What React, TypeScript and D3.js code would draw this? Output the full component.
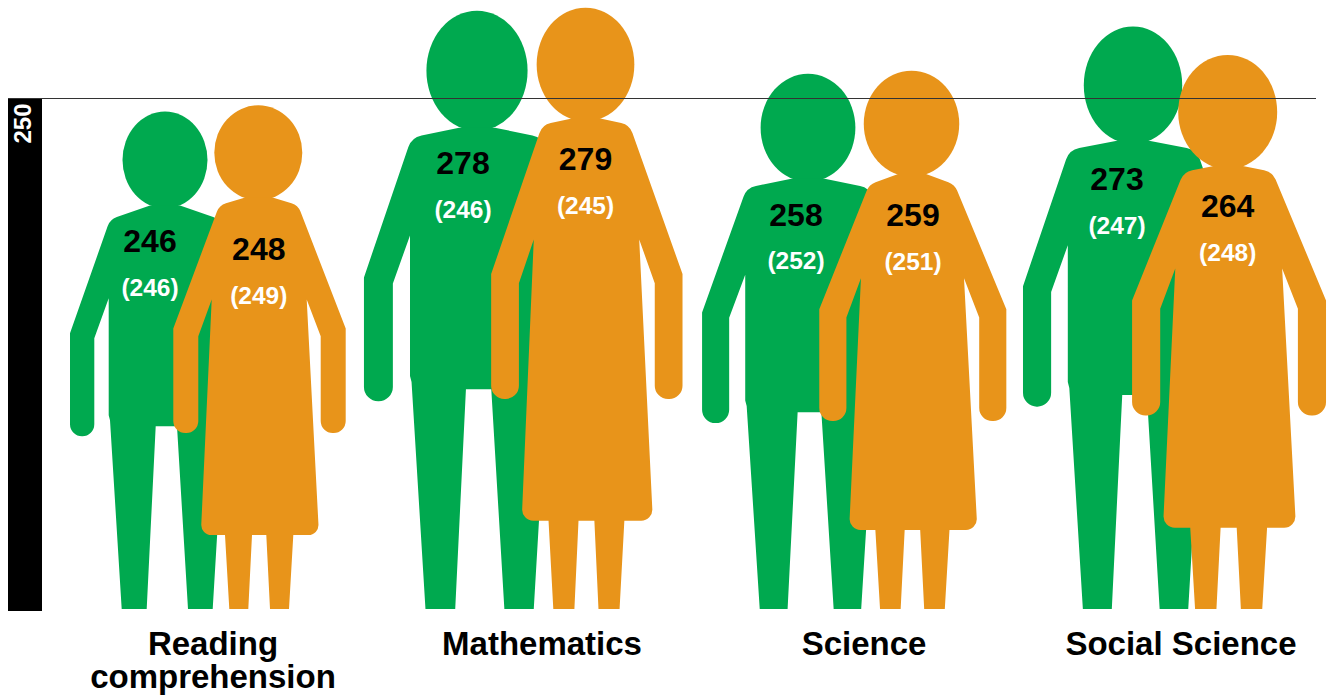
import React from 'react';
import * as d3 from 'd3';

// Scores
const categories = [['Reading', 'comprehension'], ['Mathematics'], ['Science'], ['Social Science']];
const greenScores = [246, 278, 258, 273];
const orangeScores = [248, 279, 259, 264];
const greenPrior = [246, 246, 252, 247];
const orangePrior = [249, 245, 251, 248];
const referenceTick = 250;

const greenCentres = [165, 477, 808, 1133];
const orangeCentres = [258.3, 585.5, 911.5, 1227.7];
const greenWidths = [1, 1.19, 1.115, 1.158];
const orangeWidths = [1, 1.11, 1.085, 1.125];
const greenNeckDrop = [0, 4, 4, 4.5];
const orangeNeckDrop = [0, 1, 5, 10];
const greenShoulderDrop = [0, -3, -2, -3];
const orangeShoulderDrop = [0, -2, 7, 7];
const greenOffsets = [-15, -14, -12, -16];
const orangeOffsets = [0.5, 0, 1.5, 0];
const greenBaselines = [252, 174, 225.5, 190];
const orangeBaselines = [260, 170, 226, 217];
const categoryCentres = [213, 542, 864, 1181];

const GREEN = '#00A94F';
const ORANGE = '#E8941A';

const baseY = 609;
const y = d3.scaleLinear().domain([88.1, referenceTick]).range([baseY, 99]);

// Silhouettes: [x from head centre, y from head top, corner radius]
type Pt = [number, number, number];
const greenHeight = 498;
const greenBody: Pt[] = [
  [-15, 94, 0], [-55, 108, 15], [-95, 222, 0], [-95, 325, 12], [-70.7, 325, 12],
  [-70.7, 227, 0], [-56.3, 187, 0], [-56.3, 304, 0], [-55, 309, 0], [-43.3, 498, 0],
  [-18.3, 498, 0], [-9.3, 315, 0], [12, 315, 0], [23, 498, 0], [47.7, 498, 0],
  [59, 309, 0], [57.3, 304, 0], [56.3, 187, 0], [70.7, 227, 0], [70.7, 325, 12],
  [95, 325, 12], [95, 222, 0], [55, 108, 15], [15, 94, 0],
];
const orangeHeight = 504;
const orangeBody: Pt[] = [
  [-12.3, 92, 0], [-39, 100, 14], [-85, 223.3, 0], [-85, 328, 12], [-60, 328, 12],
  [-60, 231, 0], [-46.6, 194.3, 0], [-57.5, 430, 10], [-33.3, 430, 0], [-29, 504, 0],
  [-10, 504, 0], [-6.3, 430, 0], [8, 430, 0], [11.7, 504, 0], [30.7, 504, 0],
  [35, 430, 0], [60.7, 430, 10], [48.4, 194.3, 0], [62.4, 231, 0], [62.4, 328, 12],
  [87.4, 328, 12], [87.4, 223.3, 0], [39.7, 100, 14], [13.4, 92, 0],
];

function Figure({ score, cx, kx, colour, shape, refHeight, rx, neckDrop, shoulderDrop }: any) {
  const top = y(score);
  const ky = (baseY - top) / refHeight;
  const last = shape.length - 1;
  const px = (pt: Pt) => cx + pt[0] * kx;
  const py = (pt: Pt, i: number) => {
    const drop = i === 0 || i === last ? neckDrop : i === 1 || i === last - 1 ? shoulderDrop : 0;
    return top + pt[1] * ky + drop;
  };
  const p = d3.path();
  p.moveTo(px(shape[0]), py(shape[0], 0));
  for (let i = 1; i <= last; i++) {
    const pt = shape[i];
    const n = (i + 1) % shape.length;
    if (pt[2] > 0) p.arcTo(px(pt), py(pt, i), px(shape[n]), py(shape[n], n), pt[2] * kx);
    else p.lineTo(px(pt), py(pt, i));
  }
  p.closePath();
  // head sits on the neck, so its height follows the neck position
  const ry = (py(shape[0], 0) - top + 3) / 2;
  return (
    <g fill={colour}>
      <ellipse cx={cx} cy={top + ry} rx={rx * kx} ry={ry} />
      <path d={p.toString()} />
    </g>
  );
}

export default function App() {
  const font = '"Liberation Sans", Arial, sans-serif';
  const lineY = y(referenceTick) - 0.5;
  return (
    <svg width={1333} height={696} fontFamily={font} fontWeight="bold" textAnchor="middle"
      style={{ position: 'absolute', left: 0, top: 0, display: 'block' }}>
      <rect width={1333} height={696} fill="#fff" />
      <rect x={8} y={y(referenceTick) - 1} width={34} height={513} fill="#000" />
      {categories.map((_, i) => (
        <g key={i}>
          <Figure score={greenScores[i]} cx={greenCentres[i]} kx={greenWidths[i]} colour={GREEN}
            shape={greenBody} refHeight={greenHeight} rx={42.5}
            neckDrop={greenNeckDrop[i]} shoulderDrop={greenShoulderDrop[i]} />
          <Figure score={orangeScores[i]} cx={orangeCentres[i]} kx={orangeWidths[i]} colour={ORANGE}
            shape={orangeBody} refHeight={orangeHeight} rx={44}
            neckDrop={orangeNeckDrop[i]} shoulderDrop={orangeShoulderDrop[i]} />
        </g>
      ))}
      <line x1={8} x2={1316} y1={lineY} y2={lineY} stroke="#333" strokeWidth={1} />
      <text transform={`translate(31,${y(referenceTick) + 24.5}) rotate(-90)`} fontSize={24} fill="#fff">
        {referenceTick}
      </text>
      {categories.map((lines, i) => (
        <g key={i}>
          <text x={greenCentres[i] + greenOffsets[i]} y={greenBaselines[i]} fontSize={32} fill="#000">{greenScores[i]}</text>
          <text x={greenCentres[i] + greenOffsets[i]} y={greenBaselines[i] + 43.5} fontSize={24.5} fill="#fff">({greenPrior[i]})</text>
          <text x={orangeCentres[i] + orangeOffsets[i]} y={orangeBaselines[i]} fontSize={32} fill="#000">{orangeScores[i]}</text>
          <text x={orangeCentres[i] + orangeOffsets[i]} y={orangeBaselines[i] + 43.5} fontSize={24.5} fill="#fff">({orangePrior[i]})</text>
          {lines.map((line, j) => (
            <text key={j} x={categoryCentres[i]} y={655 + j * 33} fontSize={33} fill="#000">{line}</text>
          ))}
        </g>
      ))}
    </svg>
  );
}
